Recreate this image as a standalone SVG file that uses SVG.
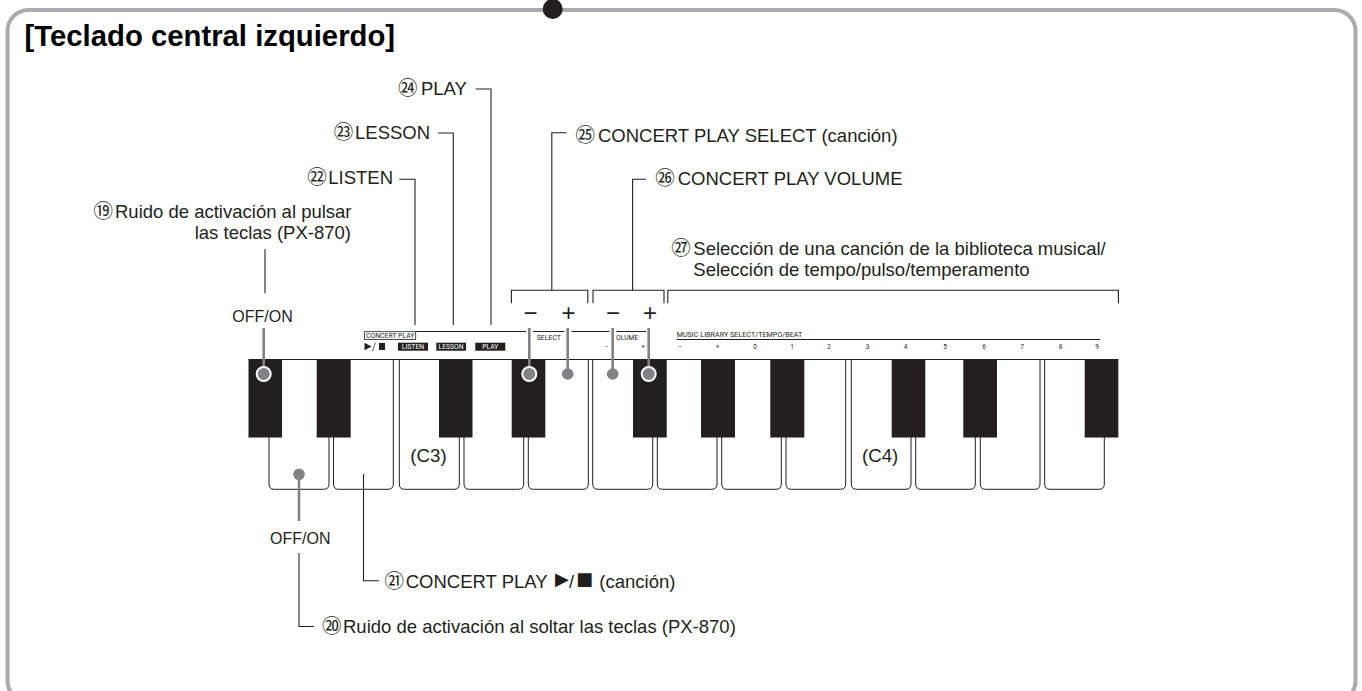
<svg xmlns="http://www.w3.org/2000/svg" width="1362" height="691" viewBox="0 0 1362 691">
<style>
text{font-family:"Liberation Sans",Arial,"Noto Sans CJK JP",sans-serif;fill:#231f20}
.t{font-size:18.500px}
.o{font-size:16px}
.n{font-family:"Noto Sans CJK JP","DejaVu Sans",sans-serif;font-size:19.500px}
.g{font-family:"DejaVu Sans",sans-serif;font-size:18px}
.s{font-family:"Roboto","Liberation Sans",sans-serif;font-size:7px;fill:#231f20}
.w{font-family:"Roboto","Liberation Sans",sans-serif;font-size:6.5px;fill:#fff;text-anchor:middle}
.c{font-size:6.5px;text-anchor:middle;font-family:"Roboto","Liberation Sans",sans-serif}
.b{font-size:24px;text-anchor:middle}
.line{fill:none;stroke:#231f20;stroke-width:1.1}
.key{fill:none;stroke:#231f20;stroke-width:1}
.blk{fill:#231f20}
.gl{stroke:#808285;stroke-width:2.6;fill:none}
.gd{fill:#808285}
.ring{fill:#808285;stroke:#fff;stroke-width:2}
</style>
<rect width="1362" height="691" fill="#fff"/>
<g id="frame">
<rect x="7.5" y="10" width="1348" height="692" rx="21" fill="none" stroke="#a9abae" stroke-width="4"/>
<circle cx="552.7" cy="9" r="10" fill="#231f20"/>
</g>
<text id="title" x="24.5" y="45.500" font-size="29.3" font-weight="bold" style="fill:#000">[Teclado central izquierdo]</text>
<g id="keyboard">
<path class="key" d="M248.5 359.5H1118.5"/>
<path class="key" d="M269 437V484q0 5.300 5.300 5.300H323.700q5.300 0 5.300-5.300V437"/>
<path class="key" d="M333.500 437V484q0 5.300 5.300 5.300H388q5.300 0 5.300-5.300V359.500"/>
<path class="key" d="M399.300 359.500V484q0 5.300 5.300 5.300H454q5.300 0 5.300-5.300V437"/>
<path class="key" d="M464 437V484q0 5.300 5.300 5.300H518.400q5.300 0 5.300-5.300V437"/>
<path class="key" d="M528.300 437V484q0 5.300 5.300 5.300H583q5.300 0 5.300-5.300V359.500"/>
<path class="key" d="M592.700 359.500V484q0 5.300 5.300 5.300H647.400q5.300 0 5.300-5.300V437"/>
<path class="key" d="M657.300 437V484q0 5.300 5.300 5.300H711.700q5.300 0 5.300-5.300V437"/>
<path class="key" d="M721.700 437V484q0 5.300 5.300 5.300H776q5.300 0 5.300-5.300V437"/>
<path class="key" d="M786 437V484q0 5.300 5.300 5.300H840.400q5.300 0 5.300-5.300V359.500"/>
<path class="key" d="M851.300 359.500V484q0 5.300 5.300 5.300H905.700q5.300 0 5.300-5.300V437"/>
<path class="key" d="M915.700 437V484q0 5.300 5.300 5.300H970q5.300 0 5.300-5.300V437"/>
<path class="key" d="M980.300 437V484q0 5.300 5.300 5.300H1034.700q5.300 0 5.300-5.300V359.500"/>
<path class="key" d="M1044.700 359.500V484q0 5.300 5.300 5.300H1099q5.300 0 5.300-5.300V437"/>
<rect class="blk" x="248.500" y="359.500" width="33.500" height="78"/>
<rect class="blk" x="316.700" y="359.500" width="34" height="78"/>
<rect class="blk" x="439" y="359.500" width="33.500" height="78"/>
<rect class="blk" x="511.700" y="359.500" width="33.600" height="78"/>
<rect class="blk" x="633" y="359.500" width="33.700" height="78"/>
<rect class="blk" x="701" y="359.500" width="34" height="78"/>
<rect class="blk" x="770.300" y="359.500" width="34" height="78"/>
<rect class="blk" x="891.700" y="359.500" width="33.600" height="78"/>
<rect class="blk" x="963.300" y="359.500" width="33.700" height="78"/>
<rect class="blk" x="1084.700" y="359.500" width="33.600" height="78"/>
<text x="410.300" y="461.500" font-size="18.700">(C3)</text>
<text x="862" y="461.500" font-size="18.700">(C4)</text>
</g>
<g id="panel">
<rect x="364.500" y="331.700" width="51.200" height="7.800" fill="#fff" stroke="#231f20" stroke-width=".8"/>
<text class="s" x="366" y="338" textLength="48.500" lengthAdjust="spacingAndGlyphs">CONCERT PLAY</text>
<path class="line" d="M415.700 331.500H646"/>
<rect x="526" y="329" width="7" height="6" fill="#fff"/>
<rect x="564.500" y="329" width="7" height="6" fill="#fff"/>
<rect x="609.500" y="329" width="7" height="6" fill="#fff"/>
<text class="s" x="536.700" y="340" textLength="24.300" lengthAdjust="spacingAndGlyphs">SELECT</text>
<text class="s" x="616" y="340" textLength="22.300" lengthAdjust="spacingAndGlyphs">OLUME</text>
<path class="blk" d="M364.500 342.800 371.500 346.500 364.500 350.200Z"/>
<path d="M372.500 351 375.500 342.500" stroke="#231f20" stroke-width=".7"/>
<rect class="blk" x="379" y="343" width="6" height="7"/>
<g><rect class="blk" x="398" y="342.700" width="30" height="8"/><text class="w" x="413" y="349.400" textLength="22.500" lengthAdjust="spacingAndGlyphs">LISTEN</text></g>
<g><rect class="blk" x="436.300" y="342.700" width="29.700" height="8"/><text class="w" x="451.100" y="349.400" textLength="25" lengthAdjust="spacingAndGlyphs">LESSON</text></g>
<g><rect class="blk" x="475.300" y="342.700" width="30" height="8"/><text class="w" x="490.300" y="349.400" textLength="16" lengthAdjust="spacingAndGlyphs">PLAY</text></g>
<text class="c" x="606.700" y="349">−</text>
<text class="c" x="643" y="349">+</text>
<text class="s" x="676.700" y="336.500" textLength="125.600" lengthAdjust="spacingAndGlyphs">MUSIC LIBRARY  SELECT/TEMPO/BEAT</text>
<path class="line" d="M676.700 339.500H1100"/>
<text class="c" x="680" y="349">−</text><text class="c" x="717.700" y="349">+</text>
<text class="c" x="755" y="349">0</text><text class="c" x="792" y="349">1</text><text class="c" x="829" y="349">2</text><text class="c" x="867.700" y="349">3</text><text class="c" x="905.700" y="349">4</text><text class="c" x="945" y="349">5</text><text class="c" x="984" y="349">6</text><text class="c" x="1022" y="349">7</text><text class="c" x="1060.700" y="349">8</text><text class="c" x="1097" y="349">9</text>
<text class="b" x="530.600" y="321">−</text><text class="b" x="568.600" y="321">+</text><text class="b" x="613" y="321">−</text><text class="b" x="650" y="321">+</text>
</g>
<g id="connectors">
<path class="line" d="M265 249V293.300"/>
<path class="line" d="M399.300 179.300H415V325"/>
<path class="line" d="M438.300 133H453.300V325"/>
<path class="line" d="M475.600 89H491V325"/>
<path class="line" d="M566.500 132.700H551.800V290.300"/>
<path class="line" d="M511.400 303.300V290.300H587.800V303.300"/>
<path class="line" d="M646 179.300H632.600V290.300"/>
<path class="line" d="M593 303.300V290.300H664V303.300"/>
<path class="line" d="M667.800 303.300V290.300H1118.400V303.300"/>
<path class="line" d="M363.500 474V580.700H379"/>
<path class="line" d="M299 553V626.500H314"/>
<path class="gl" d="M263.700 328V374M529.300 328V374M567.700 328V374M612.700 328V374M648.700 328V374M299 474V521"/>
<circle class="ring" cx="263.700" cy="374" r="7"/>
<circle class="ring" cx="529.300" cy="374" r="7"/>
<circle class="gd" cx="567.700" cy="374" r="5.800"/>
<circle class="gd" cx="612.700" cy="374" r="5.800"/>
<circle class="ring" cx="648.700" cy="374" r="7"/>
<circle class="gd" cx="299" cy="474.300" r="5.800"/>
</g>
<g id="labels">
<text class="o" x="232.300" y="321.700">OFF/ON</text>
<text class="o" x="270" y="544">OFF/ON</text>
<text class="t"><tspan class="n" x="93.500" y="218.300">⑲</tspan><tspan x="115" y="218.300">Ruido de activación al pulsar</tspan></text>
<text class="t" x="351" y="239.300" text-anchor="end">las teclas (PX-870)</text>
<text class="t"><tspan class="n" x="322" y="632.700">⑳</tspan><tspan x="343" y="632.700">Ruido de activación al soltar las teclas (PX-870)</tspan></text>
<text class="t"><tspan class="n" x="384.500" y="587.700">㉑</tspan><tspan x="405.700" y="587.700">CONCERT PLAY</tspan><tspan class="g" x="555" y="584.500">▶</tspan><tspan x="569" y="587.700">/</tspan><tspan class="g" x="576" y="584.500">■</tspan><tspan x="599.300" y="587.700">(canción)</tspan></text>
<text class="t"><tspan class="n" x="307.200" y="184">㉒</tspan><tspan x="328.300" y="184">LISTEN</tspan></text>
<text class="t"><tspan class="n" x="333.800" y="139">㉓</tspan><tspan x="355" y="139">LESSON</tspan></text>
<text class="t"><tspan class="n" x="398" y="95">㉔</tspan><tspan x="420.900" y="95">PLAY</tspan></text>
<text class="t"><tspan class="n" x="575.500" y="141.500">㉕</tspan><tspan x="598" y="141.500">CONCERT PLAY SELECT (canción)</tspan></text>
<text class="t"><tspan class="n" x="655.200" y="185">㉖</tspan><tspan x="677.700" y="185">CONCERT PLAY VOLUME</tspan></text>
<text class="t"><tspan class="n" x="671.200" y="255">㉗</tspan><tspan x="693.300" y="255">Selección de una canción de la biblioteca musical/</tspan></text>
<text class="t" x="693.300" y="275.500">Selección de tempo/pulso/temperamento</text>
</g>
</svg>
